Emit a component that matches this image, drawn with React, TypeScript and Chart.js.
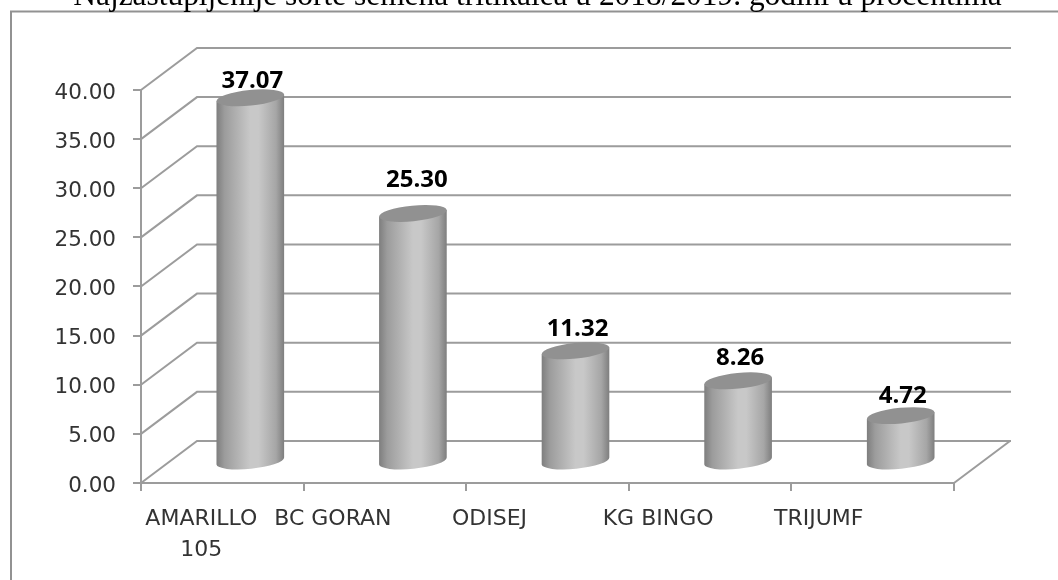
import React, { useEffect, useRef } from "react";
import { Chart, registerables } from "chart.js";

Chart.register(...registerables);

const categories = [["AMARILLO", "105"], "BC GORAN", "ODISEJ", "KG BINGO", "TRIJUMF"];
const values = [37.07, 25.3, 11.32, 8.26, 4.72];
const yTicks = [0, 5, 10, 15, 20, 25, 30, 35, 40];
const titleText = "Najzastupljenije sorte semena tritikalea u 2018/2019. godini u procentima";

const DEPTH_X = 56;
const DEPTH_Y = 42;
const categoryLabelShift = [-21, -52, -58, -52, -54];
const valueLabelShift = [[2, -17], [4, -33], [2, -22], [2, -23], [2, -19]];
const yLabelDrop = 3;
const GRID = "#9c9c9c";

const scene = {
  id: "scene",
  beforeDraw(chart: any) {
    const { ctx, width, height } = chart;
    ctx.save();
    ctx.fillStyle = "#fff";
    ctx.fillRect(0, 0, width, height);
    ctx.strokeStyle = "#929292";
    ctx.lineWidth = 2;
    ctx.beginPath();
    ctx.moveTo(11, height + 5);
    ctx.lineTo(11, 11.5);
    ctx.lineTo(width + 5, 11.5);
    ctx.stroke();
    ctx.restore();
    const xs = chart.scales.x;
    xs.getLabelItems(chart.chartArea).forEach((it: any, i: number) => {
      const base = xs.getPixelForTick(i);
      it.options.translation = [base + categoryLabelShift[i], it.options.translation[1]];
    });
    const ys = chart.scales.y;
    ys.getLabelItems(chart.chartArea).forEach((it: any, i: number) => {
      it.options.translation = [it.options.translation[0], ys.getPixelForTick(i) + yLabelDrop];
    });
  },
  beforeDatasetsDraw(chart: any) {
    const { ctx, chartArea: a, scales } = chart;
    const ys = scales.y;
    ctx.save();
    ctx.strokeStyle = GRID;
    ctx.lineWidth = 2;
    ctx.beginPath();
    yTicks.forEach((v) => {
      const y = ys.getPixelForValue(v);
      ctx.moveTo(a.left, y);
      ctx.lineTo(a.left + DEPTH_X, y - DEPTH_Y);
      ctx.lineTo(a.right + DEPTH_X + 1, y - DEPTH_Y);
    });
    ctx.moveTo(a.right, a.bottom);
    ctx.lineTo(a.right + DEPTH_X, a.bottom - DEPTH_Y);
    ctx.stroke();
    ctx.restore();
  },
  afterDatasetsDraw(chart: any) {
    const { ctx } = chart;
    const meta = chart.getDatasetMeta(0);
    meta.data.forEach((el: any, i: number) => {
      const cx = el.x + DEPTH_X / 2;
      const top = el.y - DEPTH_Y / 2;
      const bottom = el.base - DEPTH_Y / 2;
      const rx = el.width / 2;
      const ry = 7.8;
      const tilt = -0.1;
      const l = cx - rx * Math.cos(tilt);
      const r = cx + rx * Math.cos(tilt);
      const dy = rx * Math.sin(tilt);

      ctx.save();
      ctx.font = "bold 24px 'Open Sans'";
      ctx.fillStyle = "#000";
      ctx.textAlign = "center";
      ctx.textBaseline = "middle";
      ctx.fillText(values[i].toFixed(2), cx + valueLabelShift[i][0], top + valueLabelShift[i][1]);

      const grad = ctx.createLinearGradient(l, 0, r, 0);
      grad.addColorStop(0, "#7e7e7e");
      grad.addColorStop(0.12, "#9c9c9c");
      grad.addColorStop(0.5, "#c8c8c8");
      grad.addColorStop(0.62, "#c8c8c8");
      grad.addColorStop(0.88, "#a6a6a6");
      grad.addColorStop(1, "#7e7e7e");
      ctx.fillStyle = grad;
      ctx.beginPath();
      ctx.moveTo(l, top - dy);
      ctx.lineTo(l, bottom - dy);
      ctx.ellipse(cx, bottom, rx, ry, tilt, Math.PI, 0, true);
      ctx.lineTo(r, top + dy);
      ctx.closePath();
      ctx.fill();

      ctx.fillStyle = "#919191";
      ctx.beginPath();
      ctx.ellipse(cx, top, rx, ry, tilt, 0, Math.PI * 2);
      ctx.fill();
      ctx.restore();
    });
  },
};

export default function App() {
  const ref = useRef<HTMLCanvasElement>(null);
  useEffect(() => {
    document.body.style.margin = "0";
    const chart = new Chart(ref.current as HTMLCanvasElement, {
      type: "bar",
      data: {
        labels: categories as any,
        datasets: [
          {
            data: values,
            backgroundColor: "rgba(0,0,0,0)",
            categoryPercentage: 1,
            barPercentage: 0.418,
          },
        ],
      },
      plugins: [scene],
      options: {
        responsive: false,
        animation: false,
        layout: { padding: { left: 17, right: 0, top: 0, bottom: 0 } },
        plugins: {
          legend: { display: false },
          tooltip: { enabled: false },
          title: {
            display: true,
            text: titleText,
            color: "#000",
            font: { family: "'Liberation Serif'", size: 31.4, weight: "normal", lineHeight: 1.2 },
            padding: { top: -22, bottom: 74.3 },
          },
        },
        scales: {
          x: {
            afterFit: (s: any) => {
              s.height = 97;
            },
            border: { color: GRID, width: 2 },
            grid: { color: GRID, lineWidth: 2, drawOnChartArea: false, tickLength: 8, offset: true },
            ticks: {
              color: "#333",
              font: { family: "'DejaVu Sans'", size: 22, lineHeight: 1.4 },
              maxRotation: 0,
              autoSkip: false,
              padding: 13,
            },
          },
          y: {
            min: 0,
            max: 40,
            afterFit: (s: any) => {
              s.width = 124;
            },
            border: { color: GRID, width: 2 },
            grid: { color: GRID, lineWidth: 2, drawOnChartArea: false, tickLength: 8 },
            ticks: {
              stepSize: 5,
              color: "#333",
              padding: 17,
              font: { family: "'DejaVu Sans'", size: 21.5 },
              callback: (v: any) => Number(v).toFixed(2),
            },
          },
          spacer: {
            position: "right",
            min: 0,
            max: 40,
            afterFit: (s: any) => {
              s.width = 104;
            },
            border: { display: false },
            grid: { display: false },
            ticks: { display: false },
          },
        },
      } as any,
    });
    return () => chart.destroy();
  }, []);
  return <canvas ref={ref} width={1058} height={580} style={{ display: "block" }} />;
}
